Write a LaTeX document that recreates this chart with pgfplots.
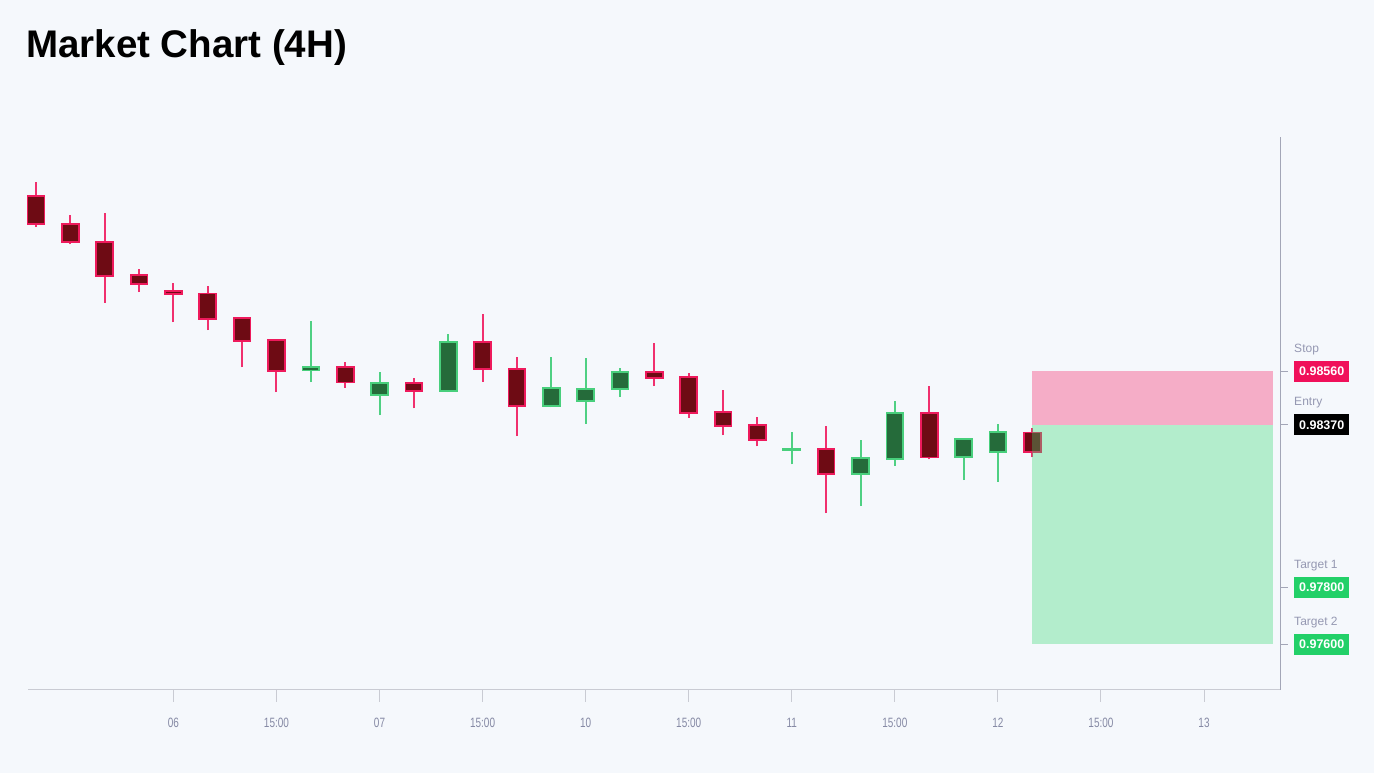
\documentclass[border=0pt]{standalone}
\usepackage{fontspec}
\setmainfont{Liberation Sans}
\newfontfamily\condfont[FakeStretch=0.74]{Liberation Sans}
\usepackage{pgfplots}
\pgfplotsset{compat=1.18}
\definecolor{bg}{HTML}{F5F8FC}
\definecolor{bearfill}{HTML}{6E0B14}
\definecolor{bearline}{HTML}{EE1A5C}
\definecolor{bearwickc}{HTML}{F0306E}
\definecolor{bullfill}{HTML}{256B3A}
\definecolor{bullline}{HTML}{48CF7C}
\definecolor{bullwickc}{HTML}{4FD083}
\definecolor{stopred}{HTML}{F0105A}
\definecolor{tgtgreen}{HTML}{22D068}
\definecolor{zonegreen}{HTML}{38D973}
\definecolor{zonepink}{HTML}{F52267}
\definecolor{labgrey}{HTML}{9598B2}
\definecolor{ticklab}{HTML}{868AA5}
\definecolor{axisgrey}{HTML}{C9CBD3}
\definecolor{spinegrey}{HTML}{A3A6B7}
\pgfplotsset{
  bearwick/.style={draw=bearwickc, line width=2pt, mark=none},
  bearbody/.style={draw=bearline, fill=bearfill, line width=1.8pt, mark=none},
  bullwick/.style={draw=bullwickc, line width=2pt, mark=none},
  bullbody/.style={draw=bullline, fill=bullfill, line width=1.8pt, mark=none},
}
% \candle{style}{index}{low}{body bottom}{body top}{high}
\newcommand{\candle}[6]{%
  \pgfmathsetmacro\xa{#2-0.245}\pgfmathsetmacro\xb{#2+0.245}%
  \edef\doit{%
    \noexpand\addplot[#1wick] coordinates {(#2,#3) (#2,#4)};
    \noexpand\addplot[#1wick] coordinates {(#2,#5) (#2,#6)};
    \noexpand\addplot[#1body] coordinates {(\xa,#4) (\xb,#4) (\xb,#5) (\xa,#5)} -- cycle;}%
  \doit}
\newcommand{\lvl}[4]{% y, caption, text, colour
  \node[anchor=base west, inner sep=0pt, text=labgrey, font=\fontsize{12}{14}\selectfont]
    at ([yshift=19pt]axis cs:36.62,#1) {#2};
  \node[anchor=west, fill=#4, text=white, inner sep=0pt, minimum width=55pt,
    minimum height=21pt, font=\fontsize{12.5}{14}\selectfont\bfseries]
    at (axis cs:36.62,#1) {#3};
  \draw[spinegrey, line width=1pt] (axis cs:36.24,#1) -- ([xshift=7.5pt]axis cs:36.24,#1);}
\begin{document}
\begin{tikzpicture}
\fill[bg] (0,0) rectangle (1374pt,773pt);
\node[anchor=base west, inner sep=0pt, font=\fontsize{38.5}{42}\selectfont\bfseries]
  at (26pt,715pt) {Market Chart (4H)};
\begin{axis}[
  at={(28pt,83pt)}, anchor=south west, scale only axis,
  width=1253pt, height=553pt,
  y coord trafo/.code={\pgfmathparse{(#1-0.97)*1000}},
  y coord inv trafo/.code={\pgfmathparse{#1/1000+0.97}},
  xmin=-0.233, xmax=36.24, ymin=0.97438, ymax=0.99383,
  axis x line=bottom, axis y line=right,
  x axis line style={draw=axisgrey, line width=1pt, -},
  y axis line style={draw=spinegrey, line width=1pt, -},
  xtick={4,7,...,34},
  xticklabels={06,15:00,07,15:00,10,15:00,11,15:00,12,15:00,13},
  ytick=\empty,
  tick align=outside, major tick length=12pt,
  xtick style={draw=axisgrey, line width=1pt},
  xticklabel style={font=\condfont\fontsize{13.5}{15}\selectfont, text=ticklab, yshift=-13pt},
  /pgf/number format/assume math mode=true,
  clip=false,
]
\candle{bear}{0}{0.99066}{0.99076}{0.99177}{0.99224}
\candle{bear}{1}{0.99006}{0.99014}{0.99077}{0.99108}
\candle{bear}{2}{0.98800}{0.98895}{0.99015}{0.99117}
\candle{bear}{3}{0.98838}{0.98866}{0.98899}{0.98920}
\candle{bear}{4}{0.98732}{0.98832}{0.98843}{0.98871}
\candle{bear}{5}{0.98704}{0.98742}{0.98833}{0.98860}
\candle{bear}{6}{0.98574}{0.98667}{0.98747}{0.98749}
\candle{bear}{7}{0.98486}{0.98559}{0.98669}{0.98669}
\candle{bull}{8}{0.98521}{0.98562}{0.98574}{0.98737}
\candle{bear}{9}{0.98502}{0.98520}{0.98575}{0.98591}
\candle{bull}{10}{0.98405}{0.98475}{0.98517}{0.98555}
\candle{bear}{11}{0.98429}{0.98490}{0.98519}{0.98536}
\candle{bull}{12}{0.98486}{0.98490}{0.98663}{0.98690}
\candle{bear}{13}{0.98522}{0.98568}{0.98663}{0.98760}
\candle{bear}{14}{0.98331}{0.98438}{0.98567}{0.98610}
\candle{bull}{15}{0.98432}{0.98437}{0.98501}{0.98610}
\candle{bull}{16}{0.98374}{0.98456}{0.98498}{0.98607}
\candle{bull}{17}{0.98470}{0.98498}{0.98558}{0.98572}
\candle{bear}{18}{0.98507}{0.98536}{0.98558}{0.98657}
\candle{bear}{19}{0.98395}{0.98413}{0.98539}{0.98554}
\candle{bear}{20}{0.98335}{0.98368}{0.98416}{0.98494}
\candle{bear}{21}{0.98295}{0.98318}{0.98371}{0.98399}
\candle{bull}{22}{0.98232}{0.98281}{0.98286}{0.98345}
\candle{bear}{23}{0.98060}{0.98197}{0.98286}{0.98368}
\candle{bull}{24}{0.98085}{0.98197}{0.98253}{0.98317}
\candle{bull}{25}{0.98226}{0.98251}{0.98413}{0.98454}
\candle{bear}{26}{0.98249}{0.98256}{0.98413}{0.98506}
\candle{bull}{27}{0.98176}{0.98258}{0.98322}{0.98325}
\candle{bull}{28}{0.98171}{0.98274}{0.98345}{0.98374}
\candle{bear}{29}{0.98256}{0.98275}{0.98344}{0.98358}
% risk / reward zones
\addplot[draw=none, fill=zonepink, fill opacity=0.35]
  coordinates {(29,0.9837) (36,0.9837) (36,0.9856) (29,0.9856)} -- cycle;
\addplot[draw=none, fill=zonegreen, fill opacity=0.35]
  coordinates {(29,0.9760) (36,0.9760) (36,0.9837) (29,0.9837)} -- cycle;
\lvl{0.9856}{Stop}{0.98560}{stopred}
\lvl{0.9837}{Entry}{0.98370}{black}
\lvl{0.9780}{Target 1}{0.97800}{tgtgreen}
\lvl{0.9760}{Target 2}{0.97600}{tgtgreen}
\end{axis}
\pgfresetboundingbox
\useasboundingbox (0,0) rectangle (1374pt,773pt);
\end{tikzpicture}
\end{document}
